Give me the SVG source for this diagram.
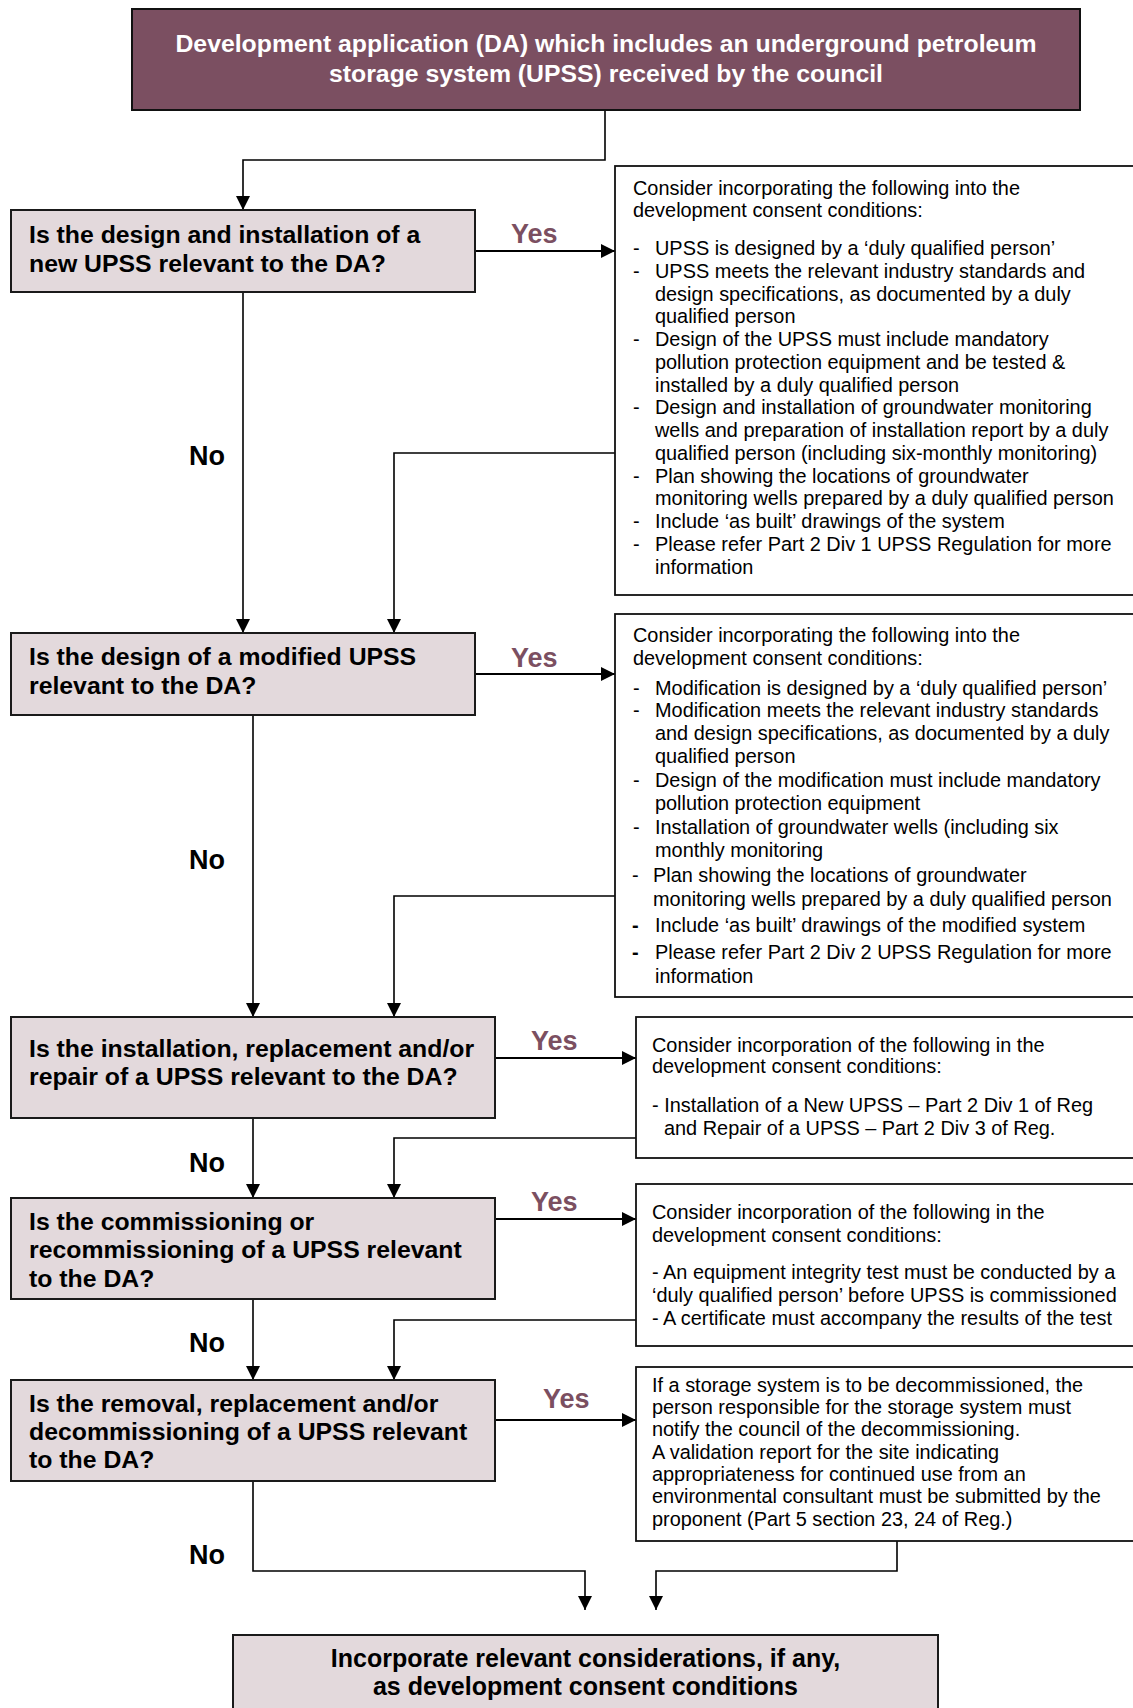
<svg xmlns="http://www.w3.org/2000/svg" width="1133" height="1708" viewBox="0 0 1133 1708">
<defs>
<marker id="arr" markerUnits="userSpaceOnUse" markerWidth="15" markerHeight="15" refX="14" refY="7" orient="auto">
<path d="M0,0 L14,7 L0,14 z" fill="#000"/>
</marker>
<style>
.q{fill:#e3d9dc;stroke:#1a1a1a;stroke-width:2}
.t{fill:#7b4f61;stroke:#111;stroke-width:2}
.r{fill:#fff;stroke:#111;stroke-width:1.8}
.qt{font-family:"Liberation Sans",Arial,sans-serif;font-weight:bold;font-size:24.8px;fill:#000}
.et{font-family:"Liberation Sans",Arial,sans-serif;font-weight:bold;font-size:25px;fill:#000}
.tt{font-family:"Liberation Sans",Arial,sans-serif;font-weight:bold;font-size:24.8px;fill:#fff}
.b{font-family:"Liberation Sans",Arial,sans-serif;font-size:19.9px;fill:#000}
.y{font-family:"Liberation Sans",Arial,sans-serif;font-weight:bold;font-size:27px;fill:#7b4f61}
.n{font-family:"Liberation Sans",Arial,sans-serif;font-weight:bold;font-size:27px;fill:#000}
.c{fill:none;stroke:#000;stroke-width:1.6}
.ca{fill:none;stroke:#000;stroke-width:2.2}
</style>
</defs>
<rect width="1133" height="1708" fill="#fff"/>

<g id="connectors">
<path class="c" d="M605,110 V160 H243 V210" marker-end="url(#arr)"/>
<path class="ca" d="M475,251 H615" marker-end="url(#arr)"/>
<path class="c" d="M243,292 V633" marker-end="url(#arr)"/>
<path class="c" d="M615,453 H394 V633" marker-end="url(#arr)"/>
<path class="ca" d="M475,674 H615" marker-end="url(#arr)"/>
<path class="c" d="M253,715 V1017" marker-end="url(#arr)"/>
<path class="c" d="M615,896 H394 V1017" marker-end="url(#arr)"/>
<path class="ca" d="M495,1058 H636" marker-end="url(#arr)"/>
<path class="c" d="M253,1118 V1198" marker-end="url(#arr)"/>
<path class="c" d="M636,1138 H394 V1198" marker-end="url(#arr)"/>
<path class="ca" d="M495,1219 H636" marker-end="url(#arr)"/>
<path class="c" d="M253,1299 V1380" marker-end="url(#arr)"/>
<path class="c" d="M636,1320 H394 V1380" marker-end="url(#arr)"/>
<path class="ca" d="M495,1420 H636" marker-end="url(#arr)"/>
<path class="c" d="M253,1481 V1571 H585 V1610" marker-end="url(#arr)"/>
<path class="c" d="M897,1541 V1571 H656 V1610" marker-end="url(#arr)"/>
<text class="y" x="511" y="243">Yes</text>
<text class="y" x="511" y="667">Yes</text>
<text class="y" x="531" y="1050">Yes</text>
<text class="y" x="531" y="1211">Yes</text>
<text class="y" x="543" y="1408">Yes</text>
<text class="n" x="189" y="465">No</text>
<text class="n" x="189" y="869">No</text>
<text class="n" x="189" y="1172">No</text>
<text class="n" x="189" y="1352">No</text>
<text class="n" x="189" y="1564">No</text>
</g>

<g id="start">
<rect class="t" x="132" y="9" width="948" height="101"/>
<text class="tt" x="606" y="52" text-anchor="middle">Development application (DA) which includes an underground petroleum</text>
<text class="tt" x="606" y="82" text-anchor="middle">storage system (UPSS) received by the council</text>
</g>

<g id="q1">
<rect class="q" x="11" y="210" width="464" height="82"/>
<text class="qt" x="29" y="243">Is the design and installation of a</text>
<text class="qt" x="29" y="272">new UPSS relevant to the DA?</text>
</g>

<g id="r1">
<rect class="r" x="615" y="166" width="540" height="429"/>
<text class="b" x="633" y="195">Consider incorporating the following into the</text>
<text class="b" x="633" y="217">development consent conditions:</text>
<text class="b" x="633" y="255">-</text><text class="b" x="655" y="255">UPSS is designed by a ‘duly qualified person’</text>
<text class="b" x="633" y="278">-</text><text class="b" x="655" y="278">UPSS meets the relevant industry standards and</text>
<text class="b" x="655" y="301">design specifications, as documented by a duly</text>
<text class="b" x="655" y="323">qualified person</text>
<text class="b" x="633" y="346">-</text><text class="b" x="655" y="346">Design of the UPSS must include mandatory</text>
<text class="b" x="655" y="369">pollution protection equipment and be tested &amp;</text>
<text class="b" x="655" y="392">installed by a duly qualified person</text>
<text class="b" x="633" y="414">-</text><text class="b" x="655" y="414">Design and installation of groundwater monitoring</text>
<text class="b" x="655" y="437">wells and preparation of installation report by a duly</text>
<text class="b" x="655" y="460">qualified person (including six-monthly monitoring)</text>
<text class="b" x="633" y="483">-</text><text class="b" x="655" y="483">Plan showing the locations of groundwater</text>
<text class="b" x="655" y="505">monitoring wells prepared by a duly qualified person</text>
<text class="b" x="633" y="528">-</text><text class="b" x="655" y="528">Include ‘as built’ drawings of the system</text>
<text class="b" x="633" y="551">-</text><text class="b" x="655" y="551">Please refer Part 2 Div 1 UPSS Regulation for more</text>
<text class="b" x="655" y="574">information</text>
</g>

<g id="q2">
<rect class="q" x="11" y="633" width="464" height="82"/>
<text class="qt" x="29" y="665">Is the design of a modified UPSS</text>
<text class="qt" x="29" y="694">relevant to the DA?</text>
</g>

<g id="r2">
<rect class="r" x="615" y="614" width="540" height="383"/>
<text class="b" x="633" y="642">Consider incorporating the following into the</text>
<text class="b" x="633" y="665">development consent conditions:</text>
<text class="b" x="633" y="695">-</text><text class="b" x="655" y="695">Modification is designed by a ‘duly qualified person’</text>
<text class="b" x="633" y="717">-</text><text class="b" x="655" y="717">Modification meets the relevant industry standards</text>
<text class="b" x="655" y="740">and design specifications, as documented by a duly</text>
<text class="b" x="655" y="763">qualified person</text>
<text class="b" x="633" y="787">-</text><text class="b" x="655" y="787">Design of the modification must include mandatory</text>
<text class="b" x="655" y="810">pollution protection equipment</text>
<text class="b" x="633" y="834">-</text><text class="b" x="655" y="834">Installation of groundwater wells (including six</text>
<text class="b" x="655" y="857">monthly monitoring</text>
<text class="b" x="632" y="882">-</text><text class="b" x="653" y="882">Plan showing the locations of groundwater</text>
<text class="b" x="653" y="906">monitoring wells prepared by a duly qualified person</text>
<text class="b" x="632" y="932" font-weight="bold">-</text><text class="b" x="655" y="932">Include ‘as built’ drawings of the modified system</text>
<text class="b" x="632" y="959" font-weight="bold">-</text><text class="b" x="655" y="959">Please refer Part 2 Div 2 UPSS Regulation for more</text>
<text class="b" x="655" y="983">information</text>
</g>

<g id="q3">
<rect class="q" x="11" y="1017" width="484" height="101"/>
<text class="qt" x="29" y="1057">Is the installation, replacement and/or</text>
<text class="qt" x="29" y="1085">repair of a UPSS relevant to the DA?</text>
</g>

<g id="r3">
<rect class="r" x="636" y="1017" width="520" height="141"/>
<text class="b" x="652" y="1052">Consider incorporation of the following in the</text>
<text class="b" x="652" y="1073">development consent conditions:</text>
<text class="b" x="652" y="1112">- Installation of a New UPSS – Part 2 Div 1 of Reg</text>
<text class="b" x="664" y="1135">and Repair of a UPSS – Part 2 Div 3 of Reg.</text>
</g>

<g id="q4">
<rect class="q" x="11" y="1198" width="484" height="101"/>
<text class="qt" x="29" y="1230">Is the commissioning or</text>
<text class="qt" x="29" y="1258">recommissioning of a UPSS relevant</text>
<text class="qt" x="29" y="1287">to the DA?</text>
</g>

<g id="r4">
<rect class="r" x="636" y="1184" width="520" height="162"/>
<text class="b" x="652" y="1219">Consider incorporation of the following in the</text>
<text class="b" x="652" y="1242">development consent conditions:</text>
<text class="b" x="652" y="1279">- An equipment integrity test must be conducted by a</text>
<text class="b" x="652" y="1302">‘duly qualified person’ before UPSS is commissioned</text>
<text class="b" x="652" y="1325">- A certificate must accompany the results of the test</text>
</g>

<g id="q5">
<rect class="q" x="11" y="1380" width="484" height="101"/>
<text class="qt" x="29" y="1412">Is the removal, replacement and/or</text>
<text class="qt" x="29" y="1440">decommissioning of a UPSS relevant</text>
<text class="qt" x="29" y="1468">to the DA?</text>
</g>

<g id="r5">
<rect class="r" x="636" y="1367" width="520" height="174"/>
<text class="b" x="652" y="1392">If a storage system is to be decommissioned, the</text>
<text class="b" x="652" y="1414">person responsible for the storage system must</text>
<text class="b" x="652" y="1436">notify the council of the decommissioning.</text>
<text class="b" x="652" y="1459">A validation report for the site indicating</text>
<text class="b" x="652" y="1481">appropriateness for continued use from an</text>
<text class="b" x="652" y="1503">environmental consultant must be submitted by the</text>
<text class="b" x="652" y="1526">proponent (Part 5 section 23, 24 of Reg.)</text>
</g>

<g id="end">
<rect class="q" x="233" y="1635" width="705" height="90"/>
<text class="et" x="585.5" y="1667" text-anchor="middle">Incorporate relevant considerations, if any,</text>
<text class="et" x="585.5" y="1695" text-anchor="middle">as development consent conditions</text>
</g>
</svg>
